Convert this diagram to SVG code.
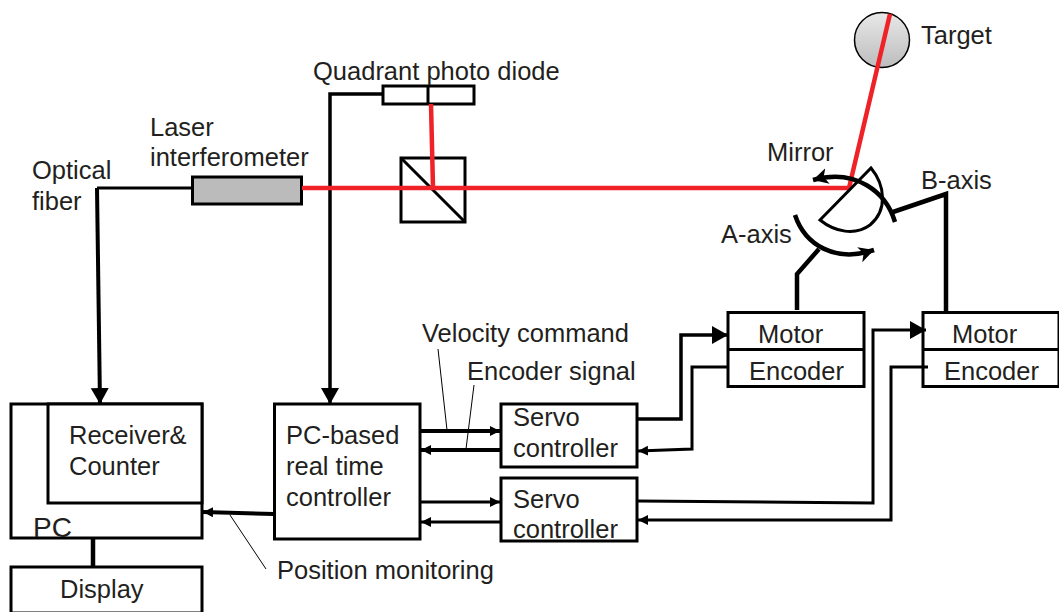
<svg xmlns="http://www.w3.org/2000/svg" width="1059" height="612" viewBox="0 0 1059 612">
<style>
text{font-family:"Liberation Sans",Arial,sans-serif;font-size:25.500px;fill:#231f20}
.b{fill:#fff;stroke:#000;stroke-width:3}
.n{fill:none;stroke:#000;stroke-width:3}
.t{fill:none;stroke:#000;stroke-width:4}
.f{fill:none;stroke:#000;stroke-width:4.500}
.h{fill:none;stroke:#000;stroke-width:1}
.r{fill:none;stroke:#ee2227;stroke-width:4.500}
</style>
<defs>
<linearGradient id="g" x1="0" y1="0" x2="0" y2="1"><stop offset="0" stop-color="#e8e8e8"/><stop offset="1" stop-color="#bdbdbd"/></linearGradient>
<marker id="a" markerUnits="userSpaceOnUse" markerWidth="12" markerHeight="12" refX="10" refY="5" orient="auto"><path d="M0 0L10 5L0 10Z"/></marker>
<marker id="L" markerUnits="userSpaceOnUse" markerWidth="18" markerHeight="20" refX="16" refY="9" orient="auto"><path d="M0 0L16 9L0 18Z"/></marker>
<marker id="c" markerUnits="userSpaceOnUse" markerWidth="18" markerHeight="18" refX="15" refY="8" orient="auto"><path d="M0 0L15 8L0 16L4 8Z"/></marker>
</defs>
<g id="pc"><rect class="b" x="11" y="404" width="191" height="134"/><text x="33" y="537" style="font-size:28px">PC</text></g>
<g id="receiver"><rect class="b" x="48" y="404" width="154" height="99"/><text x="69" y="444">Receiver&amp;</text><text x="69" y="475">Counter</text></g>
<g id="display"><rect class="b" x="11" y="567" width="191" height="46"/><text x="60" y="598">Display</text></g>
<g id="rt-controller"><rect class="b" x="274.500" y="404" width="145.500" height="135"/><text x="286" y="444">PC-based</text><text x="286" y="475">real time</text><text x="286" y="506">controller</text></g>
<g id="servo1"><rect class="b" x="501" y="404" width="136" height="63"/><text x="513" y="426">Servo</text><text x="513" y="457">controller</text></g>
<g id="servo2"><rect class="b" x="501" y="478" width="136" height="63"/><text x="513" y="508">Servo</text><text x="513" y="538">controller</text></g>
<g id="motor1"><rect class="b" x="728" y="312.500" width="136" height="74"/><path class="n" d="M728 349.500H864"/><text x="758" y="343">Motor</text><text x="749" y="380">Encoder</text></g>
<g id="motor2"><rect class="b" x="923" y="312.500" width="136" height="74"/><path class="n" d="M923 349.500H1059"/><text x="952" y="343">Motor</text><text x="944" y="380">Encoder</text></g>
<g id="connectors">
<path class="n" d="M192 188H97"/>
<path class="t" d="M97 188L100 404" marker-end="url(#L)"/>
<path class="t" d="M383 94H330V404" style="stroke-width:3.500" marker-end="url(#L)"/>
<path class="f" d="M93 538V567"/>
<path class="t" d="M274 514L203 512" marker-end="url(#a)"/>
<path class="h" d="M230 515L266 569"/>
<path class="t" d="M420 431H500" marker-end="url(#a)"/>
<path class="t" d="M500 450H421" marker-end="url(#a)"/>
<path class="n" d="M420 502H500" marker-end="url(#a)"/>
<path class="n" d="M500 522H421" marker-end="url(#a)"/>
<path class="h" d="M438 349L447 430"/>
<path class="h" d="M474 385L466 449"/>
<path class="n" d="M637 419H681V335H728" style="stroke-width:3.500" marker-end="url(#L)"/>
<path class="n" d="M728 367H692V449L638 451" marker-end="url(#a)"/>
<path class="n" d="M638 501L873 503V330H926" marker-end="url(#L)"/>
<path class="n" d="M928 367H891V520H638" marker-end="url(#a)"/>
</g>
<g id="target"><circle cx="882" cy="40" r="27.500" fill="url(#g)" stroke="#000" stroke-width="1.500"/><text x="921" y="44">Target</text></g>
<g id="interferometer"><rect x="192.500" y="177" width="109" height="27" fill="#bbb" stroke="#000" stroke-width="3"/></g>
<g id="beam-splitter"><rect class="b" x="401" y="158" width="64" height="64"/><path class="n" d="M401 158L465 222"/></g>
<g id="photo-diode"><rect class="b" x="383" y="86" width="91" height="18"/><path class="n" d="M428 86V104"/></g>
<g id="beam"><path class="r" d="M302 188H849L890 14"/><path class="r" d="M431 104L433 188"/></g>
<g id="mirror"><path class="n" d="M820 220L871 168C885 185 888 210 870 225C855 236 835 232 820 220Z"/></g>
<g id="axes">
<path class="f" d="M795 215C805 245 835 263 874 250" marker-end="url(#c)"/>
<path class="f" d="M819 249L797 274V310"/>
<path class="f" d="M895 222C886 192 856 168 813 180" marker-end="url(#c)"/>
<path class="f" d="M893 212L946 194V313"/>
</g>
<g id="labels">
<text x="313" y="80">Quadrant photo diode</text>
<text x="150" y="136">Laser</text>
<text x="150" y="166">interferometer</text>
<text x="32" y="179">Optical</text>
<text x="32" y="210">fiber</text>
<text x="767" y="161">Mirror</text>
<text x="921" y="189">B-axis</text>
<text x="721" y="243">A-axis</text>
<text x="422" y="342">Velocity command</text>
<text x="467" y="380">Encoder signal</text>
<text x="277" y="579">Position monitoring</text>
</g>
</svg>
